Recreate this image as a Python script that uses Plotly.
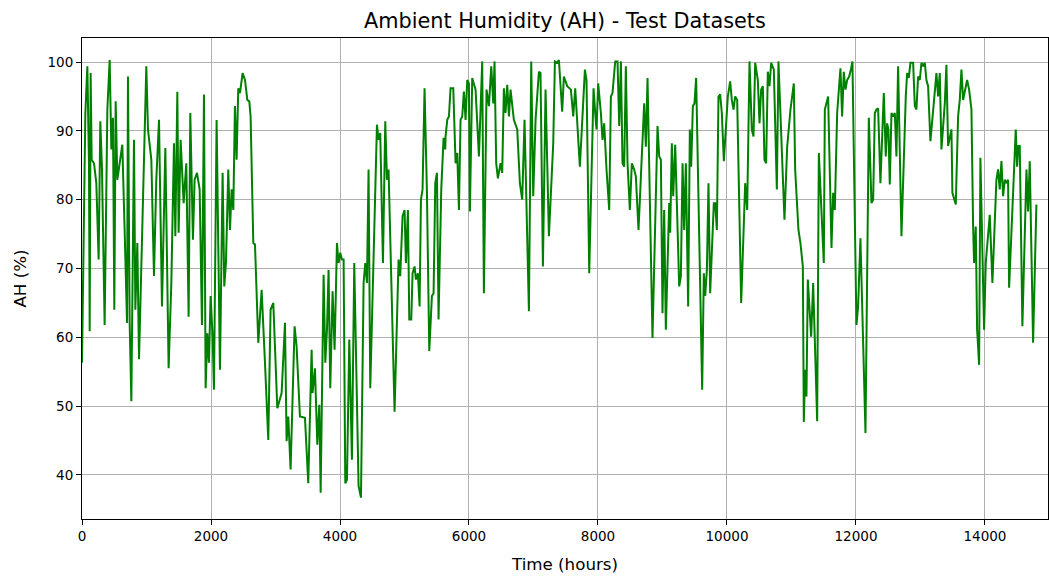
import plotly.graph_objects as go

# Time (hours) and Ambient Humidity (%)
time_hours = [
    0, 52, 83, 108, 119, 134, 150, 186, 222, 258, 284, 310, 351, 393, 429, 455, 480, 501, 522, 548,
    584, 625, 661, 698, 713, 739, 765, 791, 806, 827, 858, 884, 997, 1023, 1075, 1116, 1152, 1194, 1240, 1292,
    1343, 1385, 1426, 1447, 1478, 1498, 1529, 1576, 1617, 1653, 1679, 1720, 1746, 1783, 1824, 1860,
    1891, 1917, 1943, 1968, 1994, 2025, 2046, 2087, 2113, 2139, 2180, 2206, 2232, 2268, 2294, 2320, 2346, 2371,
    2397, 2423, 2449, 2490, 2527, 2563, 2594, 2614, 2656, 2682, 2733, 2785, 2837, 2888, 2924, 2966, 3028, 3069,
    3095, 3147, 3172, 3198, 3234, 3296, 3327, 3379, 3457, 3508, 3560, 3575, 3612, 3648, 3679, 3700,
    3746, 3772, 3798, 3823, 3849, 3885, 3916, 3953, 3978, 4004, 4030, 4056, 4082, 4108, 4144, 4185, 4221, 4288,
    4325, 4366, 4392, 4418, 4443, 4469, 4573, 4598, 4624, 4666, 4702, 4728, 4753, 4846, 4908, 4934, 4970, 5001,
    5022, 5053, 5074, 5105, 5125, 5156, 5177, 5208, 5234, 5255, 5280, 5311, 5348, 5384, 5425, 5451, 5477, 5503,
    5528, 5570, 5606, 5632,
    5637, 5663, 5689, 5714, 5756, 5792, 5818, 5844, 5869, 5895, 5921, 5947, 5973, 5999, 6014, 6050, 6102, 6154,
    6205, 6231, 6272, 6309, 6345, 6376, 6396, 6422, 6448, 6489, 6515, 6541, 6567, 6593, 6619, 6644, 6696, 6748,
    6789, 6825, 6861, 6929, 6965, 6996, 7032, 7084, 7109, 7146, 7187, 7239, 7306, 7332, 7368, 7394, 7445, 7471, 7523,
    7580, 7616, 7647, 7719, 7797, 7822, 7864, 7931, 7957, 7977, 8003, 8045, 8070, 8096, 8132, 8174, 8200, 8225,
    8267, 8303, 8329, 8355, 8380, 8406, 8432, 8458, 8494, 8525, 8561, 8587, 8628, 8716, 8742, 8768, 8845, 8923,
    8949, 8975, 9000, 9026, 9052, 9104, 9119, 9145, 9166, 9197, 9259, 9285, 9311, 9336, 9362, 9398, 9424,
    9445, 9471, 9496, 9522, 9615, 9641, 9662, 9688, 9713, 9739, 9796, 9817, 9843, 9868, 9894, 9920, 9951, 10013,
    10049, 10075, 10101, 10127, 10158, 10220, 10282, 10313, 10349, 10385, 10411, 10437, 10478, 10504, 10530, 10556,
    10581, 10607, 10633, 10659, 10685, 10726, 10773, 10798, 10891, 10933, 10984, 11036, 11057, 11108, 11139, 11176,
    11191, 11212, 11232, 11253, 11305,
    11336, 11398, 11424, 11501, 11517, 11568, 11620, 11646, 11672, 11708, 11759, 11785, 11811, 11837, 11863, 11894,
    11920, 11945, 12007, 12033, 12069, 12147, 12199, 12240, 12266, 12292, 12317, 12343, 12379, 12431, 12462, 12483,
    12503, 12524, 12550, 12576, 12602, 12627, 12653, 12705, 12772, 12793, 12819, 12844, 12886, 12912, 12937, 12963,
    12989, 13015, 13041, 13067, 13092, 13118, 13154,
    13222, 13247, 13273, 13299, 13325, 13377, 13402, 13428, 13480, 13495, 13547, 13583, 13609, 13635, 13661, 13723,
    13754, 13790, 13816, 13831, 13857, 13878, 13909, 13929, 13986, 14012, 14074, 14115, 14177, 14203, 14229, 14255,
    14281, 14307, 14332, 14358, 14374, 14410, 14462, 14477, 14498, 14518, 14539, 14580, 14643, 14668, 14694, 14746, 14797,
]

ah_percent = [
    56.3, 92.6, 99.4, 85.3, 60.9, 98.4, 85.8, 85.3, 82.4, 71.3, 91.4, 84.4, 61.8, 93.1, 100.3, 87.3, 91.9, 64.0, 94.3, 82.9,
    85.3, 88.0, 75.6, 62.1, 97.9, 62.1, 50.7, 75.6, 88.7, 64.0, 73.7, 56.8, 99.4, 90.2, 85.8, 68.9, 82.9, 91.6, 64.5, 87.5,
    55.5, 67.9, 88.2, 74.7, 95.7, 75.2, 88.7, 79.5, 85.3, 63.0, 92.6, 74.2, 82.9, 83.9, 81.5, 61.8,
    95.3, 52.6, 60.6, 56.3, 66.0, 60.1, 52.4, 91.6, 70.8, 55.3, 83.9, 67.4, 70.8, 84.4, 75.6, 81.5, 78.5, 93.6,
    85.8, 96.2, 95.5, 98.4, 97.4, 94.5, 94.3, 92.1, 73.7, 73.5, 59.2, 66.9, 56.3, 45.1, 64.0, 65.0, 49.7, 50.9,
    51.9, 62.1, 44.9, 48.5, 40.8, 61.6, 58.7, 48.5, 48.3, 38.8, 58.2, 51.9, 55.5, 44.4, 50.2, 37.4,
    69.1, 56.3, 61.1, 69.8, 52.6, 66.7, 58.2, 73.7, 70.8, 72.3, 71.3, 71.3, 38.8, 39.3, 59.7, 42.2, 70.8, 38.4,
    36.7, 67.9, 70.8, 67.9, 84.4, 52.6, 90.9, 88.7, 89.7, 70.8, 91.4, 82.9, 84.4, 49.2, 71.3, 68.9, 77.6, 78.5,
    70.8, 78.5, 62.6, 62.6, 69.3, 70.3, 68.4, 69.3, 64.5, 80.0, 81.5, 96.2, 81.0, 58.0, 66.0, 66.4, 82.4, 83.9,
    62.6, 81.5, 89.0, 87.3,
    89.2, 91.6, 92.1, 96.2, 96.2, 85.3, 86.8, 78.5, 91.6, 92.1, 95.7, 91.6, 97.4, 96.9, 78.3, 97.7, 96.0, 86.3,
    100.1, 66.4, 96.0, 93.6, 99.4, 94.0, 100.1, 85.3, 83.1, 85.3, 83.9, 96.2, 92.6, 96.7, 92.1, 96.0, 91.6, 90.2,
    82.4, 80.0, 91.6, 63.8, 100.1, 80.5, 91.6, 98.6, 98.4, 70.3, 96.0, 74.7, 88.2, 100.1, 99.9, 100.3, 92.8, 97.9, 96.5,
    96.0, 92.1, 96.2, 84.8, 98.9, 97.4, 69.3, 96.2, 92.6, 90.2, 96.9, 92.6, 88.7, 91.1, 84.4, 78.5, 95.0, 95.5,
    100.1, 100.1, 90.7, 100.1, 85.3, 84.8, 99.4, 85.3, 78.5, 85.3, 84.4, 83.4, 75.6, 94.0, 87.7, 97.7, 59.9, 90.7,
    86.3, 85.8, 63.5, 78.5, 61.1, 79.5, 75.2, 88.2, 80.5, 88.0, 67.4, 68.9, 85.3, 75.6, 85.3, 64.5, 90.2,
    84.8, 93.6, 94.0, 97.7, 52.4, 69.3, 66.0, 69.8, 82.4, 66.4, 79.5, 79.5, 75.6, 95.0, 95.3, 92.6, 85.6, 95.0,
    97.2, 94.5, 93.1, 95.0, 94.5, 65.0, 82.4, 78.5, 100.1, 90.2, 89.2, 99.9, 97.4, 91.1, 96.0, 96.5,
    85.8, 85.3, 98.6, 96.5, 99.9, 98.9, 81.5, 100.1, 77.1, 87.7, 93.1, 96.9, 84.4, 75.6, 73.7, 70.3,
    47.7, 55.3, 51.4, 68.4, 60.1,
    67.9, 47.8, 86.8, 70.8, 93.1, 95.0, 73.0, 81.0, 78.5, 92.6, 99.1, 92.1, 98.6, 96.0, 97.4, 97.9,
    98.9, 100.1, 61.8, 64.5, 74.4, 46.1, 91.9, 79.5, 80.0, 92.6, 93.1, 93.3, 82.4, 95.5, 86.3, 91.1,
    90.2, 82.2, 92.6, 92.1, 92.6, 86.3, 99.4, 74.7, 95.0, 98.4, 97.7, 99.9, 99.9, 93.6, 93.1, 97.9,
    97.4, 99.9, 99.4, 99.9, 97.4, 96.5, 88.5,
    95.0, 98.4, 95.0, 98.4, 87.3, 94.0, 99.6, 87.8, 90.2, 81.0, 79.3, 92.1, 94.5, 98.9, 94.5, 97.4,
    96.0, 93.1, 76.1, 70.8, 76.1, 61.1, 56.0, 86.1, 61.1, 70.8, 77.8, 67.9, 82.9, 84.4, 81.5, 85.6,
    80.5, 82.9, 82.4, 82.9, 67.2, 74.7, 84.8, 90.2, 84.8, 87.8, 87.8, 61.6, 84.4, 78.3, 85.6, 59.2, 79.3,
]

x_ticks = [0, 2000, 4000, 6000, 8000, 10000, 12000, 14000]
y_ticks = [40, 50, 60, 70, 80, 90, 100]

FONT = "DejaVu Sans"
TICK_SIZE = 13.5
LABEL_SIZE = 16.7
TITLE_SIZE = 20.8

fig = go.Figure()
fig.add_trace(go.Scatter(
    x=time_hours, y=ah_percent, mode="lines",
    line=dict(color="#008000", width=2),
    showlegend=False, hoverinfo="skip",
))

axis_common = dict(
    showline=True, mirror=True, linecolor="black", linewidth=1,
    ticks="outside", ticklen=5, tickwidth=1, tickcolor="black",
    showgrid=True, gridcolor="#b0b0b0", gridwidth=1, zeroline=False,
    tickfont=dict(family=FONT, size=TICK_SIZE, color="black"),
    automargin=False,
)

fig.update_layout(
    width=1049, height=578,
    margin=dict(l=82, r=1, t=38, b=59),
    paper_bgcolor="white", plot_bgcolor="white",
    font=dict(family=FONT, color="black"),
    title=dict(text="Ambient Humidity (AH) - Test Datasets", x=0.5385, xanchor="center",
               y=1 - 21 / 578, yanchor="middle", yref="container",
               font=dict(family=FONT, size=TITLE_SIZE, color="black")),
    xaxis=dict(range=[0, 14977], tickvals=x_ticks, ticktext=[str(t) for t in x_ticks],
               title=dict(text="Time (hours)", font=dict(family=FONT, size=LABEL_SIZE, color="black"), standoff=15),
               **axis_common),
    yaxis=dict(range=[33.6, 103.5], tickvals=y_ticks, ticktext=[str(t) for t in y_ticks],
               title=dict(text="AH (%)", font=dict(family=FONT, size=LABEL_SIZE, color="black"), standoff=16),
               **axis_common),
)

fig.write_html("out.html")
